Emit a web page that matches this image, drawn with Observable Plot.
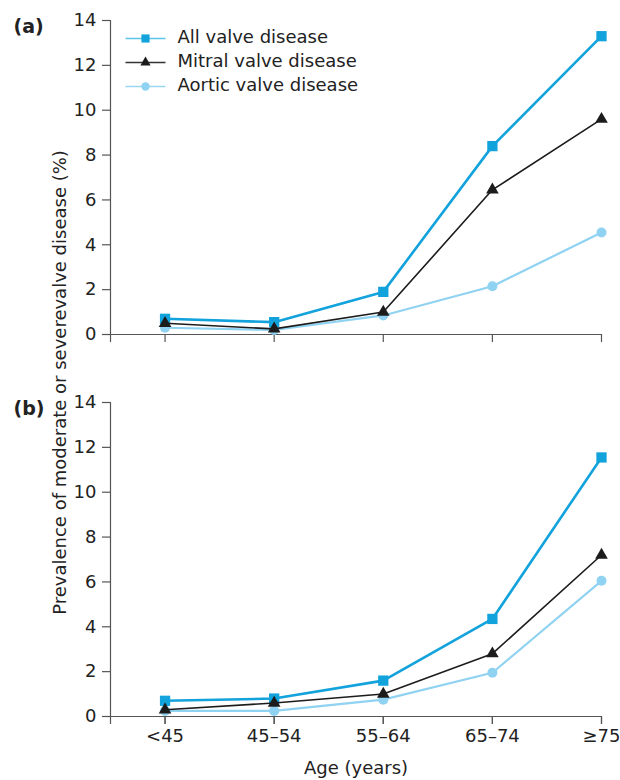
<!DOCTYPE html>
<html>
<head>
<meta charset="utf-8">
<script src="https://cdn.jsdelivr.net/npm/d3@7"></script>
<script src="https://cdn.jsdelivr.net/npm/@observablehq/plot@0.6"></script>
<style>
  body { margin: 0; background: #fff; }
  #chart svg { display: block; }
</style>
</head>
<body>
<div id="chart"></div>
<script>
// ---- data ----
const ages = ["<45", "45–54", "55–64", "65–74", "≥75"];
const panels = ["a", "b"];
const panelLabels = ["(a)", "(b)"];
const seriesNames = ["All valve disease", "Mitral valve disease", "Aortic valve disease"];
const yTicks = [0, 2, 4, 6, 8, 10, 12, 14];

// panel (a)
const allA    = [0.7, 0.55, 1.9, 8.4, 13.3];
const mitralA = [0.5, 0.25, 1.0, 6.45, 9.6];
const aorticA = [0.3, 0.2, 0.85, 2.15, 4.55];
// panel (b)
const allB    = [0.7, 0.8, 1.6, 4.35, 11.55];
const mitralB = [0.3, 0.6, 1.0, 2.8, 7.2];
const aorticB = [0.25, 0.25, 0.75, 1.95, 6.05];

const xLabel = "Age (years)";
const yLabel = "Prevalence of moderate or severevalve disease (%)";

// ---- build table ----
const tables = { a: [allA, mitralA, aorticA], b: [allB, mitralB, aorticB] };
const rows = [];
panels.forEach(p => tables[p].forEach((vals, s) =>
  vals.forEach((v, i) => rows.push({ panel: p, series: seriesNames[s], i, v }))));
const idx = ages.map((_, i) => i);
const xMin = -0.5;

const styles = {
  "All valve disease":    { color: "#12a2dc", legendLine: "#5cc3ec", symbol: "square",   r: 5.8, lr: 4.6, sw: 2.6, legendSw: 1.6 },
  "Mitral valve disease": { color: "#1c1c1c", legendLine: "#333333", symbol: "triangle", r: 4.7, lr: 3.8, sw: 1.6, legendSw: 1.3 },
  "Aortic valve disease": { color: "#8fd2f1", legendLine: "#9dd8f3", symbol: "circle",   r: 5.0, lr: 4.2, sw: 2.2, legendSw: 1.6 }
};
const drawOrder = ["Aortic valve disease", "All valve disease", "Mitral valve disease"];
const axisColor = "#555";

const lineSymbol = { draw(ctx) { ctx.moveTo(-20, 0); ctx.lineTo(20, 0); } };

const marks = [];
// frame lines (left + bottom) in each facet
marks.push(Plot.ruleY([0], { stroke: axisColor, strokeWidth: 1.2 }));
marks.push(Plot.ruleX([xMin], { stroke: axisColor, strokeWidth: 1.2 }));
// axes
marks.push(Plot.axisY({ ticks: yTicks, tickSize: 8, tickPadding: 6, fontSize: 18, label: null, stroke: axisColor, strokeWidth: 1.2 }));
marks.push(Plot.axisX({ ticks: [xMin, ...idx], tickFormat: () => "", tickSize: 8, label: null, stroke: axisColor, strokeWidth: 1.2, facetAnchor: null }));
marks.push(Plot.axisX({ ticks: idx, tickFormat: i => ages[i], tickSize: 8, tickPadding: 5, fontSize: 18, label: null, stroke: axisColor, strokeWidth: 1.2 }));

// series
for (const s of drawOrder) {
  const st = styles[s];
  const data = rows.filter(d => d.series === s);
  marks.push(Plot.line(data, { x: "i", y: "v", fy: "panel", z: "panel", stroke: st.color, strokeWidth: st.sw }));
  marks.push(Plot.dot(data, { x: "i", y: "v", fy: "panel", symbol: st.symbol, r: st.r, fill: st.color }));
}

// legend (inside panel a)
seriesNames.forEach((s, k) => {
  const st = styles[s];
  const dy = 18 + 24 * k;
  marks.push(Plot.dot([s], { fy: () => "a", frameAnchor: "top-left", dx: 35, dy, symbol: lineSymbol, stroke: st.legendLine, strokeWidth: st.legendSw, fill: "none" }));
  marks.push(Plot.dot([s], { fy: () => "a", frameAnchor: "top-left", dx: 35, dy, symbol: st.symbol, r: st.lr, fill: st.color }));
  marks.push(Plot.text([s], { fy: () => "a", frameAnchor: "top-left", dx: 67, dy: dy - 1, text: d => d, textAnchor: "start", lineAnchor: "middle", fontSize: 18, fill: "#222" }));
});

// panel labels
marks.push(Plot.text(panels, { fy: d => d, text: (d, i) => panelLabels[i], frameAnchor: "top-left", dx: -97, dy: 6, textAnchor: "start", lineAnchor: "middle", fontSize: 19, fontWeight: "bold", fill: "#222" }));

// axis titles
marks.push(Plot.text([xLabel], { fy: () => "b", frameAnchor: "bottom", dy: 52, text: d => d, textAnchor: "middle", lineAnchor: "middle", fontSize: 18, fill: "#222" }));
marks.push(Plot.text([yLabel], { fy: () => "a", frameAnchor: "left", dx: -50, dy: 205, rotate: -90, text: d => d, textAnchor: "middle", lineAnchor: "middle", fontSize: 18, fill: "#222" }));

const chart = Plot.plot({
  width: 620,
  height: 780,
  marginTop: 20,
  marginBottom: 64,
  marginLeft: 110,
  marginRight: 19,
  style: { fontFamily: "'DejaVu Sans', sans-serif", background: "#fff", color: "#222", overflow: "visible" },
  x: { type: "linear", domain: [xMin, 4] },
  y: { domain: [0, 14] },
  fy: { domain: panels, paddingInner: 0.178, paddingOuter: 0, axis: null, round: false },
  marks
});
document.getElementById("chart").appendChild(chart);
</script>
</body>
</html>
